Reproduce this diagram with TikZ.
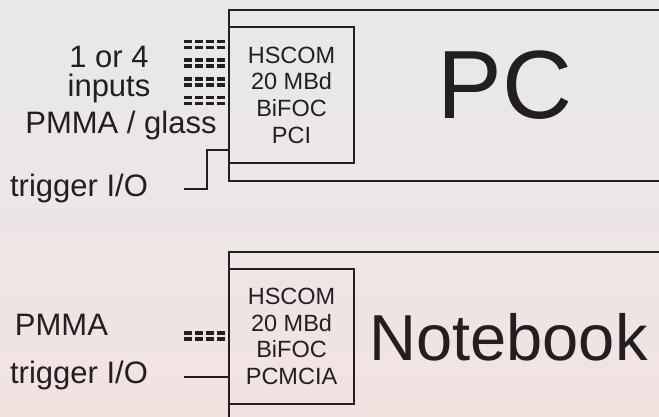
\documentclass[tikz,border=0pt]{standalone}
\usepackage{fontspec}
\setmainfont{Liberation Sans}
\usetikzlibrary{positioning,calc}
\definecolor{ink}{HTML}{231F20}
\definecolor{bgtop}{HTML}{E8E8EA}
\definecolor{bgbot}{HTML}{F2E3E1}
\newcommand{\fs}[2]{\fontsize{#1}{#2}\selectfont}
\tikzset{
  box/.style={draw=ink, line width=2.1pt, inner sep=0pt},
  card/.style={box, align=center, font=\fs{23.5}{26.7}, text=ink},
  lbl/.style={font=\fs{31}{36}, text=ink, anchor=base, inner sep=0pt},
  big/.style={text=ink, anchor=base, inner sep=0pt},
  wire/.style={draw=ink, line width=1.9pt},
  fibre/.style={draw=ink, line width=3.2pt, dash pattern=on 8pt off 3pt}
}

\begin{document}
\begin{tikzpicture}[x=1pt,y=-1pt]
  \shade[top color=bgtop, bottom color=bgbot] (0,0) rectangle (659,416);
  \clip (0,0) rectangle (659,416);
  % PC with its card
  \node[box, minimum width=480pt, minimum height=171pt, anchor=north west] (pc) at (228,9) {};
  \node[card, minimum width=125pt, minimum height=136pt, anchor=north west] (pccard) at (228,26)
    {HSCOM\\20 MBd\\BiFOC\\PCI};
  \node[big, font=\fs{97}{100}] (pcname) at (505,118) {PC};
  % notebook with its card
  \node[box, minimum width=480pt, minimum height=220pt, anchor=north west] (nb) at (228,251) {};
  \node[card, minimum width=125pt, minimum height=135pt, anchor=north west] (nbcard) at (228,268)
    {HSCOM\\20 MBd\\BiFOC\\PCMCIA};
  \node[big, font=\fs{65}{70}] (nbname) at (508.5,360) {Notebook};
  % labels
  \node[lbl] (nin) at (109,67) {1 or 4};
  \node[lbl] (inp) at (109,96) {inputs};
  \node[lbl] (fib) at (121,133) {PMMA / glass};
  \node[lbl] (pcio) at (79,196) {trigger I/O};
  \node[lbl] (nbfib) at (61.5,335) {PMMA};
  \node[lbl] (nbio) at (79,383) {trigger I/O};
  % fibre inputs
  \foreach \y/\n in {44.5/1,63/2,82/3,100.5/4}{
    \coordinate (in\n) at (184,\y);
    \draw[fibre] ([yshift=3pt]in\n) -- ([yshift=3pt]in\n -| pccard.west);
    \draw[fibre] ([yshift=-3pt]in\n) -- ([yshift=-3pt]in\n -| pccard.west);
  }
  \coordinate (in5) at (184,336);
  \draw[fibre] ([yshift=3pt]in5) -- ([yshift=3pt]in5 -| nbcard.west);
  \draw[fibre] ([yshift=-3pt]in5) -- ([yshift=-3pt]in5 -| nbcard.west);
  % trigger lines
  \coordinate (trig1) at (184,189);
  \coordinate (trig2) at (184,377);
  \draw[wire] (trig1) -- ++(23,0) |- (pccard.west |- 0,150);
  \draw[wire] (trig2) -- (trig2 -| nbcard.west);
\end{tikzpicture}
\end{document}
